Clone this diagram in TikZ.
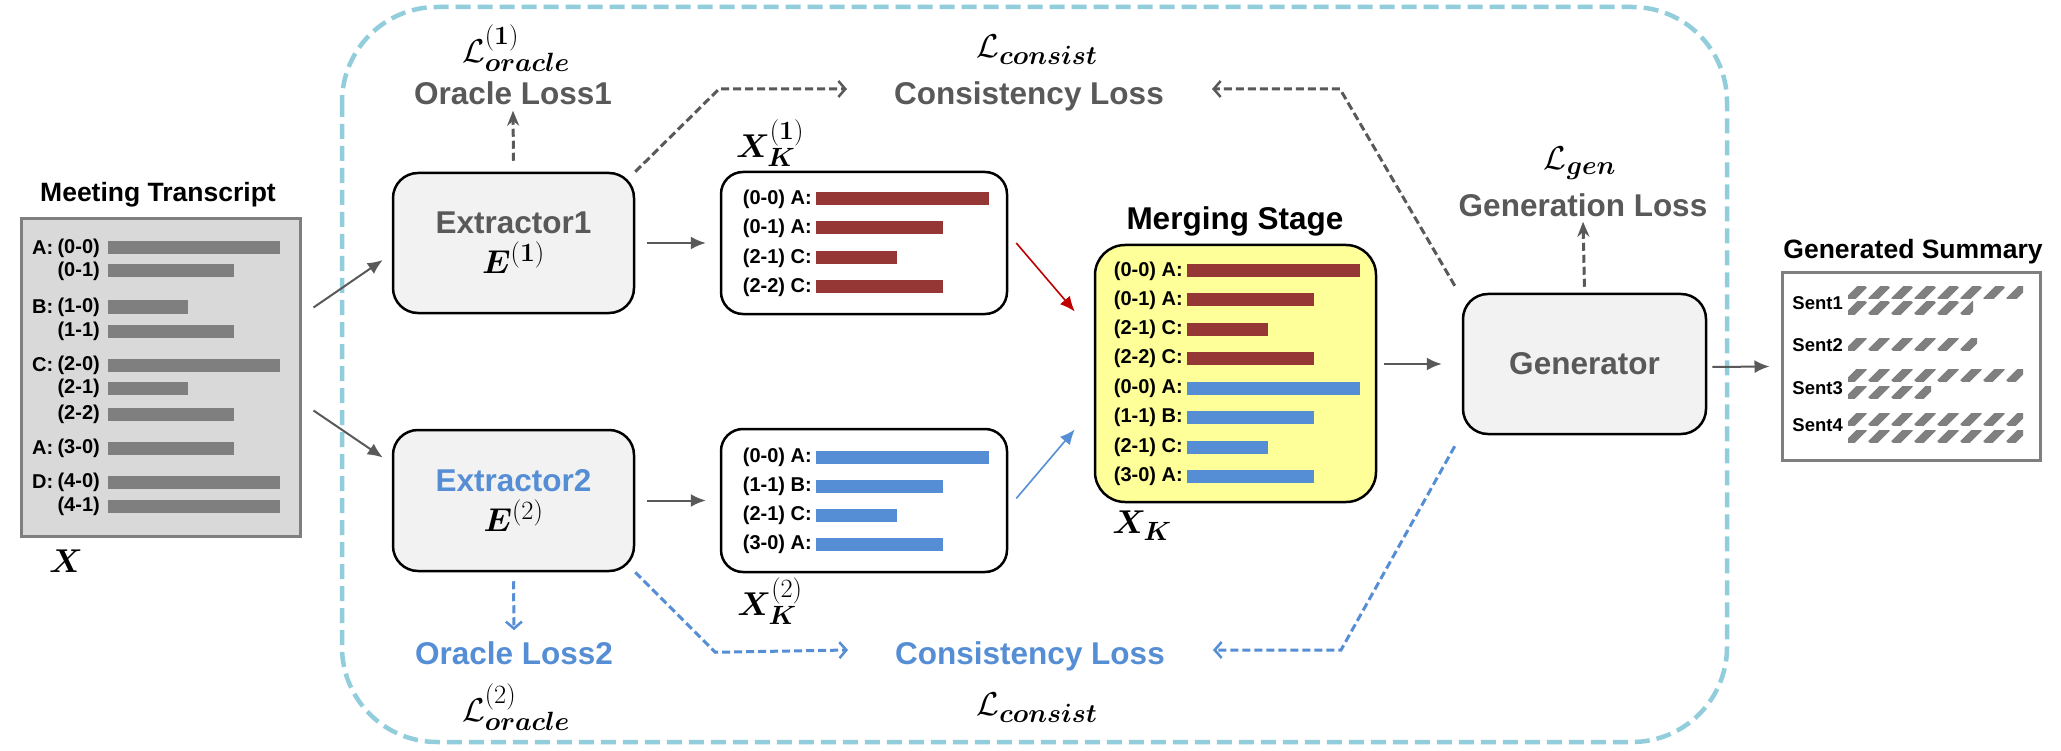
\RequirePackage{fix-cm}
\documentclass[tikz,border=0pt]{standalone}
\usepackage[no-math]{fontspec}
\setmainfont{Liberation Sans}
\usepackage{bm}
\usetikzlibrary{arrows.meta,calc}
\def\defaultscriptratio{.8}

\definecolor{lossgray}{HTML}{595959}
\definecolor{lossblue}{HTML}{558ED5}
\definecolor{framecol}{HTML}{92CDDC}
\definecolor{boxfill}{HTML}{F2F2F2}
\definecolor{transfill}{HTML}{D9D9D9}
\definecolor{bargray}{HTML}{7F7F7F}
\definecolor{barred}{HTML}{953735}
\definecolor{mergefill}{HTML}{FFFF99}
\definecolor{redarrow}{HTML}{C00000}

\tikzset{
  >={Latex[length=15pt,width=13pt]},
  module/.style={draw=black, line width=2.5pt, fill=boxfill, rounded corners=25pt},
  listbox/.style={draw=black, line width=2.5pt, fill=white, rounded corners=22pt},
  flow/.style={->, draw=lossgray, line width=2pt},
  lossdash/.style={line width=3pt, dash pattern=on 8pt off 4pt},
  barb/.style={-{Straight Barb[length=7pt,width=16pt,line width=2.5pt]}},
  stealthtip/.style={-{Stealth[length=15pt,width=12pt]}},
  biglabel/.style={font=\fontsize{31.5}{36}\selectfont\bfseries, inner sep=0pt},
  heading/.style={font=\fontsize{26.5}{30}\selectfont\bfseries, inner sep=0pt},
  rowlabel/.style={font=\fontsize{20}{24}\selectfont\bfseries, inner sep=0pt},
  mathlabel/.style={font=\fontsize{33}{38}\selectfont, inner sep=0pt}
}

% hatched summary bar: x, y (top), length
\newcommand{\hatchbar}[3]{%
  \begin{scope}
    \clip (#1,#2) rectangle ++(#3,12);
    \foreach \k in {-23,0,...,#3} {\draw[bargray, line width=8pt] (#1+\k,#2+14) -- ++(16,-16);}
  \end{scope}}

\begin{document}
\begin{tikzpicture}[x=1pt,y=-1pt]
  \useasboundingbox (0,0) rectangle (2061,751);
  \fill[white] (0,0) rectangle (2061,751);
  % training frame
  \draw[framecol, line width=4.5pt, dash pattern=on 15pt off 7pt, rounded corners=95pt] (342,7) rectangle (1727,742);

  % meeting transcript
  \node[heading] (transtitle) at (158,195) {Meeting Transcript};
  \node[draw=bargray, line width=3pt, fill=transfill, minimum width=279pt, minimum height=317pt] (trans) at (160.5,377.5) {};
  \foreach \y/\spk/\idx/\len [count=\i] in {248/A:/(0-0)/172, 271//(0-1)/126, 307/B:/(1-0)/80, 331//(1-1)/126, 365/C:/(2-0)/172, 388//(2-1)/80, 414//(2-2)/126, 448/A:/(3-0)/126, 482/D:/(4-0)/172, 506//(4-1)/172} {
    \node[rowlabel, anchor=west] (t\i) at (32,\y) {\spk};
    \node[rowlabel, anchor=east] (s\i) at (100,\y) {\idx};
    \fill[bargray] (108,\y-6.5) rectangle ++(\len,13);
  }
  \node[mathlabel] (xin) at (66,561) {$\bm{X}$};

  % extractors
  \node[module, minimum width=241pt, minimum height=140pt, biglabel, text=lossgray, align=center] (ext1) at (513.5,243)
    {Extractor1\\[4pt]{\color{black}\fontsize{33}{38}\selectfont$\bm{E}^{\mathbf{(1)}}$}};
  \node[module, minimum width=241pt, minimum height=141pt, biglabel, text=lossblue, align=center] (ext2) at (513.5,500.5)
    {Extractor2\\[4pt]{\color{black}\fontsize{33}{38}\selectfont$\bm{E}^{(2)}$}};

  % extracted lists
  \node[listbox, minimum width=286pt, minimum height=142pt] (xk1) at (864,243) {};
  \foreach \y/\txt/\len [count=\i] in {199/(0-0) A:/173, 228/(0-1) A:/127, 258/(2-1) C:/81, 287/(2-2) C:/127} {
    \node[rowlabel, anchor=east] (a\i) at (812,\y) {\txt};
    \fill[barred] (816,\y-6.5) rectangle ++(\len,13);
  }
  \node[mathlabel] (xk1lab) at (770,143) {$\bm{X}_{\bm{K}}^{\mathbf{(1)}}$};
  \node[listbox, minimum width=286pt, minimum height=143pt] (xk2) at (864,500.5) {};
  \foreach \y/\txt/\len [count=\i] in {457/(0-0) A:/173, 486/(1-1) B:/127, 515/(2-1) C:/81, 544/(3-0) A:/127} {
    \node[rowlabel, anchor=east] (b\i) at (812,\y) {\txt};
    \fill[lossblue] (816,\y-6.5) rectangle ++(\len,13);
  }
  \node[mathlabel] (xk2lab) at (770,601) {$\bm{X}_{\bm{K}}^{(2)}$};

  % merging stage
  \node[biglabel] (mergetitle) at (1235,221) {Merging Stage};
  \node[draw=black, line width=2.5pt, fill=mergefill, rounded corners=30pt, minimum width=281pt, minimum height=257pt] (merge) at (1235.5,373.5) {};
  \foreach \y/\txt/\len/\col [count=\i] in {271/(0-0) A:/173/barred, 300/(0-1) A:/127/barred, 329/(2-1) C:/81/barred, 358/(2-2) C:/127/barred,
      388/(0-0) A:/173/lossblue, 417/(1-1) B:/127/lossblue, 447/(2-1) C:/81/lossblue, 476/(3-0) A:/127/lossblue} {
    \node[rowlabel, anchor=east] (m\i) at (1183,\y) {\txt};
    \fill[\col] (1187,\y-6.5) rectangle ++(\len,13);
  }
  \node[mathlabel] (xklab) at (1142,526) {$\bm{X}_{\bm{K}}$};

  % generator
  \node[module, minimum width=243pt, minimum height=140pt, biglabel, text=lossgray] (gen) at (1584.5,364) {Generator};

  % generated summary
  \node[heading] (sumtitle) at (1913,252) {Generated Summary};
  \node[draw=bargray, line width=3pt, fill=white, minimum width=258pt, minimum height=187pt] (summ) at (1911,366.5) {};
  \foreach \y/\txt [count=\i] in {303/Sent1, 345/Sent2, 388/Sent3, 425/Sent4}
    \node[rowlabel, font=\fontsize{18.5}{22}\selectfont\bfseries, anchor=east] (sent\i) at (1843,\y) {\txt};
  \hatchbar{1848}{287}{175} \hatchbar{1848}{302}{125}
  \hatchbar{1848}{338}{129}
  \hatchbar{1848}{369}{175} \hatchbar{1848}{386}{83}
  \hatchbar{1848}{413}{175} \hatchbar{1848}{430}{175}

  % losses
  \node[biglabel, text=lossgray] (orc1) at (513,93) {Oracle Loss1};
  \node[mathlabel] (lorc1) at (516,48) {$\mathcal{L}^{\mathbf{(1)}}_{\bm{oracle}}$};
  \node[biglabel, text=lossgray] (cons1) at (1029,96) {Consistency Loss};
  \node[mathlabel] (lcons1) at (1037,50) {$\mathcal{L}_{\bm{consist}}$};
  \node[biglabel, text=lossgray] (genloss) at (1583,205) {Generation Loss};
  \node[mathlabel] (lgen) at (1580,163) {$\mathcal{L}_{\bm{gen}}$};
  \node[biglabel, text=lossblue] (orc2) at (514,653) {Oracle Loss2};
  \node[mathlabel] (lorc2) at (516,707) {$\mathcal{L}^{(2)}_{\bm{oracle}}$};
  \node[biglabel, text=lossblue] (cons2) at (1030,656) {Consistency Loss};
  \node[mathlabel] (lcons2) at (1037,708) {$\mathcal{L}_{\bm{consist}}$};

  % data flow
  \draw[flow] ($(trans.east)+(12,-70)$) -- ($(ext1.west)+(-9,17)$);
  \draw[flow] ($(trans.east)+(12,33)$) -- ($(ext2.west)+(-9,-43)$);
  \draw[flow, shorten <=12pt, shorten >=14pt] (ext1) -- (xk1);
  \draw[flow, shorten <=12pt, shorten >=14pt] (ext2) -- (xk2);
  \draw[->, redarrow, line width=1.6pt] ($(xk1.east)+(8,0)$) -- ($(merge.west)+(-19,-62)$);
  \draw[->, lossblue, line width=1.6pt] ($(xk2.east)+(8,-2)$) -- ($(merge.west)+(-19,56)$);
  \draw[flow] ($(merge.east|-gen.west)+(7,0)$) -- ($(gen.west)+(-20,0)$);
  \draw[flow] ($(gen.east)+(5,3)$) -- ($(summ.west)+(-11,0)$);

  % loss connections
  \draw[lossdash, lossgray, stealthtip] ($(ext1.north)+(0,-11)$) -- ($(orc1.south)+(0,6)$);
  \draw[lossdash, lossgray, barb] (ext1.north east) -- ++(84,-83) -- ($(cons1.west)+(-47,-7)$);
  \draw[lossdash, lossgray, barb] ($(gen.north west)+(-7,-7)$) -- ($(cons1.east)+(176,-7)$) -- ($(cons1.east)+(48,-7)$);
  \draw[lossdash, lossgray, stealthtip] ($(gen.north)+(0,-6)$) -- ($(genloss.south)+(0,5)$);
  \draw[lossdash, lossblue, barb] ($(ext2.south)+(0,9)$) -- ($(orc2.north)+(0,-11)$);
  \draw[lossdash, lossblue, barb] (ext2.south east) -- ++(80,80) -- ($(cons2.west)+(-47,-6)$);
  \draw[lossdash, lossblue, barb] ($(gen.south west)+(-7,11)$) -- ($(cons2.east)+(176,-6)$) -- ($(cons2.east)+(48,-6)$);
\end{tikzpicture}
\end{document}
